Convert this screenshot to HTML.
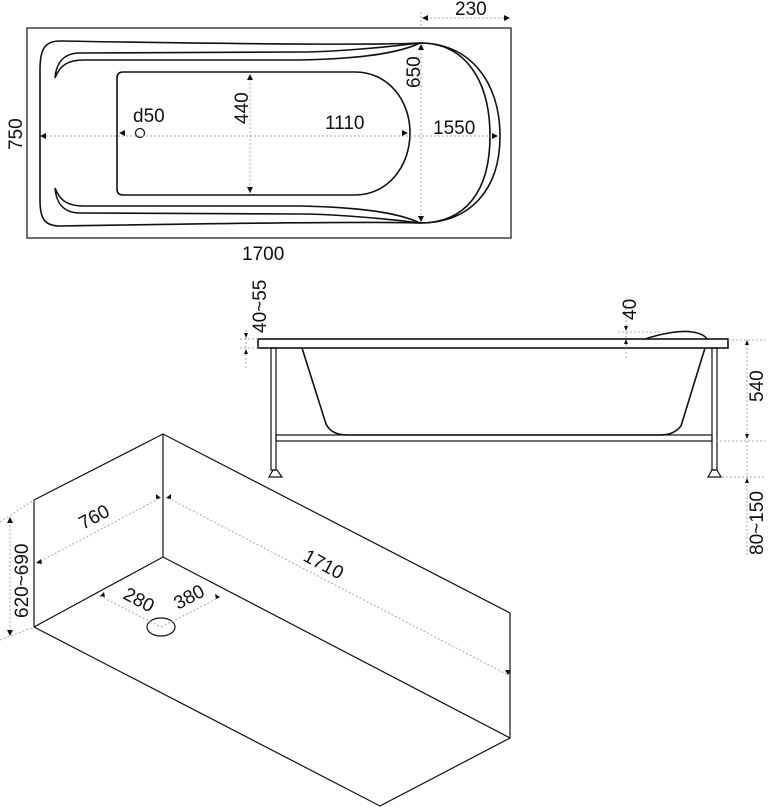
<!DOCTYPE html>
<html><head><meta charset="utf-8"><style>
html,body{margin:0;padding:0;background:#fff;}
svg{display:block;}
text{font-family:"Liberation Sans",Arial,sans-serif;font-size:19px;fill:#111;}
.k{fill:none;stroke:#111;stroke-width:1.6;}
.t{fill:none;stroke:#111;stroke-width:1.2;}
.d{fill:none;stroke:#aaa;stroke-width:1;stroke-dasharray:2,2;}
.a{fill:#111;stroke:none;}
</style></head><body>
<svg width="768" height="807" viewBox="0 0 768 807" xmlns="http://www.w3.org/2000/svg">
<!-- TOP VIEW -->
<rect x="27" y="28" width="484" height="210" class="t"/>
<path class="k" d="M420,43 C360,46 120,42 60,41 C44,41 40,50 40,70 L40,200 C40,218 44,226 60,226 C120,225 360,221 420,223 C470,223 500,190 500,136 C500,82 470,43 420,43 Z"/>
<path class="k" d="M420,43 C465,43 490,80 490,136 C490,192 465,223 420,223"/>
<path class="k" d="M420,43 C380,48 330,52 300,52 L80,53 C62,53 56,65 55,78 C60,65 68,60 84,60 L300,60 C350,59 395,55 420,43 Z"/>
<path class="k" d="M420,223 C380,218 330,214 300,214 L80,213 C62,213 56,201 55,188 C60,201 68,206 84,206 L300,206 C350,207 395,211 420,223 Z"/>
<path class="k" d="M123,72 L355,72 C388,72 410,100 410,133 C410,166 388,195 355,195 L123,195 C119,195 117,193 117,189 L117,78 C117,74 119,72 123,72 Z"/>
<circle cx="140" cy="133" r="4.5" class="t"/>
<line x1="42" y1="136" x2="498" y2="136" class="d"/>
<line x1="250" y1="75" x2="250" y2="193" class="d"/>
<line x1="421" y1="45" x2="421" y2="222" class="d"/>
<line x1="422" y1="18" x2="510" y2="18" class="d"/>
<line x1="421" y1="12" x2="421" y2="28" class="d"/>
<path class="a" d="M40,136 l6,-3 v6z M119,133 l6,-3 v6z M408,133 l-6,-3 v6z M498,136 l-6,-3 v6z M250,74 l-3,6 h6z M250,193 l-3,-6 h6z M421,44 l-3,6 h6z M421,222 l-3,-6 h6z M422,18 l6,-3 v6z M510,18 l-6,-3 v6z"/>
<text x="133" y="122">d50</text>
<text x="325" y="129">1110</text>
<text x="433" y="134">1550</text>
<text x="455" y="15">230</text>
<text x="242" y="260">1700</text>
<text transform="translate(248,124) rotate(-90)">440</text>
<text transform="translate(420,88) rotate(-90)">650</text>
<text transform="translate(22,150) rotate(-90)">750</text>
<!-- SIDE VIEW -->
<rect x="258" y="339" width="470" height="9" class="k"/>
<path class="k" d="M645,339 C660,334 680,330 692,332 C700,333 705,336 707,339"/>
<path class="k" d="M302,348 L326,424 C330,432 337,435 348,435 L660,435 C670,435 676,432 681,426 L705,348"/>
<rect x="271" y="348" width="5" height="122" class="t"/>
<rect x="712" y="348" width="5" height="122" class="t"/>
<rect x="276" y="435" width="436" height="6" class="t"/>
<path class="t" d="M269,477 L273,470 L277,470 L282,477 Z M708,477 L712,470 L717,470 L721,477 Z"/>
<line x1="246" y1="330" x2="246" y2="368" class="d"/>
<line x1="240" y1="339" x2="258" y2="339" class="d"/>
<line x1="240" y1="348" x2="258" y2="348" class="d"/>
<path class="a" d="M246,338 l-2,-5 h4z M246,349 l-2,5 h4z"/>
<line x1="626" y1="300" x2="626" y2="358" class="d"/>
<line x1="618" y1="332" x2="660" y2="332" class="d"/>
<path class="a" d="M626,331 l-2,-5 h4z M626,339 l-2,5 h4z"/>
<line x1="747" y1="340" x2="747" y2="440" class="d"/>
<line x1="728" y1="340" x2="765" y2="340" class="d"/>
<line x1="716" y1="441" x2="765" y2="441" class="d"/>
<line x1="722" y1="477" x2="765" y2="477" class="d"/>
<line x1="747" y1="441" x2="747" y2="555" class="d"/>
<path class="a" d="M747,340 l-2,5 h4z M747,439 l-2,-5 h4z M747,478 l-2,5 h4z"/>
<text transform="translate(266,333) rotate(-90)">40~55</text>
<text transform="translate(636,320) rotate(-90)">40</text>
<text transform="translate(763,402) rotate(-90)">540</text>
<text transform="translate(763,555) rotate(-90)">80~150</text>
<!-- ISO VIEW -->
<path class="t" d="M34,627 L34,500 L163,434 L510,613 L510,738 L380,806 L34,627 L163,557 L510,738 M163,434 L163,557"/>
<ellipse cx="161" cy="627" rx="14" ry="9" class="t"/>
<line x1="37" y1="563" x2="160" y2="498" class="d"/>
<line x1="168" y1="498" x2="508" y2="675" class="d"/>
<line x1="10" y1="517" x2="10" y2="636" class="d"/>
<line x1="0" y1="522" x2="34" y2="500" class="d"/>
<line x1="0" y1="640" x2="34" y2="627" class="d"/>
<line x1="100" y1="596" x2="161" y2="627" class="d"/>
<line x1="161" y1="627" x2="220" y2="597" class="d"/>
<path class="a" d="M36,563 l5,-4 l1,5z M161,498 l-5,-4 l0,5 z M166,498 l5,-4 l0,5z M508,675 l-3,-5 h6z M10,517 l-3,6 h6z M10,636 l-3,-6 h6z M100,596 l4,-4 l1,5z M220,597 l-5,-3 l1,5z"/>
<text transform="translate(83,530) rotate(-28)">760</text>
<text transform="translate(302,560) rotate(28)">1710</text>
<text transform="translate(28,618) rotate(-90)">620~690</text>
<text transform="translate(122,598) rotate(28)">280</text>
<text transform="translate(178,610) rotate(-28)">380</text>
</svg>
</body></html>
